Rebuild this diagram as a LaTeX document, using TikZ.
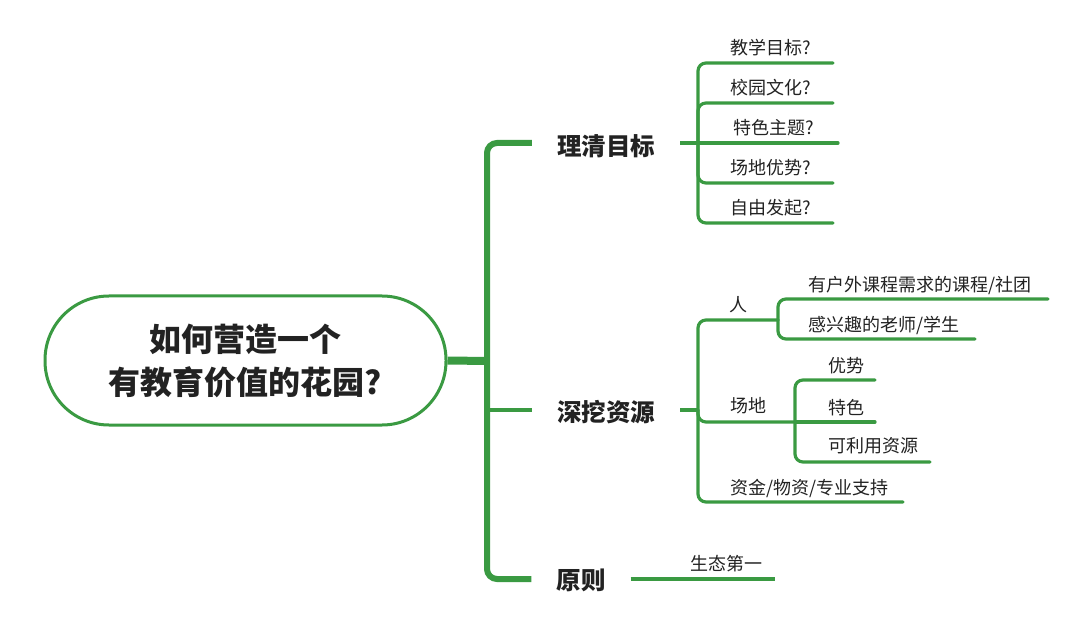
\documentclass[tikz,border=0pt]{standalone}
\usepackage{fontspec}
\newfontfamily\cjk{Noto Sans CJK SC}
\definecolor{mmgreen}{HTML}{3A9A42}
\definecolor{mmtext}{HTML}{222222}
\tikzset{
  rootbox/.style={draw=mmgreen, line width=3pt, minimum width=401pt, minimum height=129pt,
    rounded corners=64pt, align=center, text=mmtext,
    font=\cjk\bfseries\fontsize{32}{43}\selectfont},
  mainbox/.style={inner xsep=25pt, inner ysep=2pt, text=mmtext,
    font=\cjk\bfseries\fontsize{24.5}{28}\selectfont},
  leaf/.style={anchor=base west, inner sep=0pt, text=mmtext,
    font=\cjk\fontsize{18}{20}\selectfont},
  trunkline/.style={draw=mmgreen, line width=6pt, rounded corners=10pt},
  rootline/.style={draw=mmgreen, line width=8pt},
  branchline/.style={draw=mmgreen, line width=4pt, line cap=round},
  leafline/.style={draw=mmgreen, line width=3.2pt, rounded corners=8pt, line cap=round},
}
\begin{document}
\begin{tikzpicture}[x=1pt, y=-1pt]
\useasboundingbox (0,0) rectangle (1080,639);

% root
\node[rootbox] (root) at (245.5,360.5) {如何营造一个\\有教育价值的花园?};

% main branches
\node[mainbox] (b1) at (606,146) {理清目标};
\node[mainbox] (b2) at (606,412) {深挖资源};
\node[mainbox] (b3) at (581,580) {原则};

\coordinate (t) at (487,361);
\path[rootline] (root.east) -- (t);
\path[trunkline] (b1.west |- 0,143) -- (487,143) -- (487,579) -- (b3.west |- 0,579);
\path[draw=mmgreen, line width=4.5pt] (487,410) -- (b2.west |- 0,410);

% junctions
\coordinate (j1) at (698,143);
\coordinate (j2) at (698,410);
\coordinate (j21) at (778,320);
\coordinate (j22) at (795,422);

\path[draw=mmgreen, line width=3.5pt] (b1.east |- 0,143) -- (j1);
\path[draw=mmgreen, line width=3.5pt] (b2.east |- 0,410) -- (j2);
\path[draw=mmgreen, line width=3.5pt] (b3.east |- 0,579) -- (775,579);

% 理清目标 leaves
\coordinate (e11) at (833,63);
\coordinate (e12) at (833,103);
\coordinate (e13) at (838,143);
\coordinate (e14) at (833,183);
\coordinate (e15) at (833,223);
\path[leafline] (j1) |- (e11);
\path[leafline] (j1) |- (e12);
\path[leafline] (j1) -- (e13);
\path[leafline] (j1) |- (e14);
\path[leafline] (j1) |- (e15);
\node[leaf] (l11) at (730,55) {教学目标?};
\node[leaf] (l12) at (730,95) {校园文化?};
\node[leaf] (l13) at (733,135) {特色主题?};
\node[leaf] (l14) at (730,175) {场地优势?};
\node[leaf] (l15) at (730,215) {自由发起?};

% 深挖资源 leaves
\path[leafline] (j2) |- (j21);
\path[leafline] (j2) |- (j22);
\coordinate (e23) at (903,502);
\path[leafline] (j2) |- (e23);
\node[leaf] (l21) at (729,312) {人};
\node[leaf] (l22) at (730,412) {场地};
\node[leaf] (l23) at (730,494) {资金/物资/专业支持};

% 人 subs
\coordinate (e211) at (1048,299);
\coordinate (e212) at (975,339);
\path[leafline] (j21) |- (e211);
\path[leafline] (j21) |- (e212);
\node[leaf] (l211) at (808,292) {有户外课程需求的课程/社团};
\node[leaf] (l212) at (808,332) {感兴趣的老师/学生};

% 场地 subs
\coordinate (e221) at (875,380);
\coordinate (e222) at (875,422);
\coordinate (e223) at (930,462);
\path[leafline] (j22) |- (e221);
\path[leafline] (j22) -- (e222);
\path[leafline] (j22) |- (e223);
\node[leaf] (l221) at (828,372) {优势};
\node[leaf] (l222) at (828,414) {特色};
\node[leaf] (l223) at (828,452) {可利用资源};

% 原则 leaf
\node[leaf] (l31) at (690,570) {生态第一};
\end{tikzpicture}
\end{document}
